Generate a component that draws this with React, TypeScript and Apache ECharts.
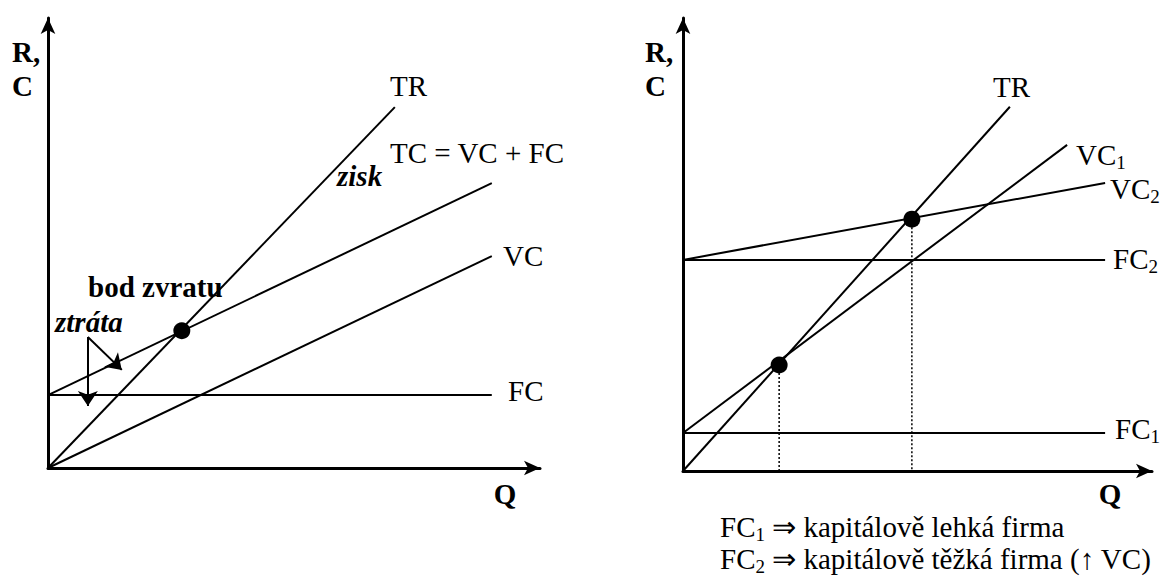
import React, { useEffect, useRef } from "react";
import * as echarts from "echarts";

const FONT = '"Liberation Serif", "Times New Roman", serif';

// Left chart (break-even)
const fcLeft = [[0, 16.2], [90.2, 16.2]];
const tcLeft = [[0, 16.2], [90.2, 63.3]];
const vcLeft = [[0, 0], [90.2, 47.1]];
const trLeft = [[0, 0], [70.5, 80.2]];
const breakEvenLeft = [[27.2, 30.5]];
const lossArrows = [
  [[8.1, 29.1], [8.1, 13.8]],
  [[8.1, 29.1], [15.0, 21.8]],
];

// Right chart (FC1 vs FC2)
const fc1 = [[0, 8.4], [90, 8.4]];
const fc2 = [[0, 46.6], [90, 46.6]];
const trRight = [[0, 0], [69.7, 80.4]];
const vc1 = [[0, 8.4], [81.9, 72]];
const vc2 = [[0, 46.6], [90, 63.6]];
const breakEvenRight = [[20.5, 23.4], [48.8, 55.6]];

const axisLine = {
  show: true,
  onZero: false,
  symbol: ["none", "arrow"],
  symbolSize: [11, 16],
  lineStyle: { color: "#000", width: 3 },
};

const baseAxis = (gridIndex: number) => ({
  type: "value",
  gridIndex,
  min: 0,
  max: 100,
  axisLine,
  axisTick: { show: false },
  axisLabel: { show: false },
  splitLine: { show: false },
});

const seg = (data: number[][], idx: number, dotted = false) => ({
  type: "line",
  xAxisIndex: idx,
  yAxisIndex: idx,
  data,
  showSymbol: false,
  symbol: "none",
  silent: true,
  lineStyle: dotted
    ? { color: "#000", width: 1.5, type: [2, 2] }
    : { color: "#000", width: 2 },
});

const txt = (text: string, x: number, y: number, opts: any = {}) => ({
  type: "text",
  x,
  y,
  silent: true,
  style: {
    text,
    fill: "#000",
    fontFamily: FONT,
    fontSize: opts.size || 29,
    fontWeight: opts.bold ? "bold" : "normal",
    fontStyle: opts.italic ? "italic" : "normal",
    textAlign: opts.align || "left",
    textVerticalAlign: "middle",
    rich: opts.rich,
  },
});

const subRich = {
  m: { fontFamily: FONT, fontSize: 29, lineHeight: 34, fill: "#000" },
  s: { fontFamily: FONT, fontSize: 19, lineHeight: 16, verticalAlign: "bottom", fill: "#000" },
};

export default function App() {
  const ref = useRef<HTMLDivElement>(null);
  useEffect(() => {
    if (!ref.current) return;
    const chart = echarts.init(ref.current, null, { renderer: "svg" });
    const dropLines = breakEvenRight.map((p) => seg([p, [p[0], 0]], 1, true));
    chart.setOption({
      animation: false,
      backgroundColor: "#fff",
      grid: [
        { left: 48, top: 18, width: 492, height: 450, outerBoundsMode: "none" },
        { left: 683, top: 18, width: 469, height: 453, outerBoundsMode: "none" },
      ],
      xAxis: [baseAxis(0), baseAxis(1)],
      yAxis: [baseAxis(0), baseAxis(1)],
      series: [
        seg(fcLeft, 0),
        seg(tcLeft, 0),
        seg(vcLeft, 0),
        seg(trLeft, 0),
        {
          type: "scatter",
          xAxisIndex: 0,
          yAxisIndex: 0,
          data: breakEvenLeft,
          symbolSize: 17,
          itemStyle: { color: "#000", opacity: 1 },
          silent: true,
          z: 5,
        },
        {
          type: "lines",
          coordinateSystem: "cartesian2d",
          xAxisIndex: 0,
          yAxisIndex: 0,
          data: lossArrows.map((c) => ({ coords: c })),
          symbol: ["none", "arrow"],
          symbolSize: [10, 15],
          lineStyle: { color: "#000", width: 2, opacity: 1 },
          silent: true,
        },
        seg(fc1, 1),
        seg(fc2, 1),
        seg(trRight, 1),
        seg(vc1, 1),
        seg(vc2, 1),
        ...dropLines,
        {
          type: "scatter",
          xAxisIndex: 1,
          yAxisIndex: 1,
          data: breakEvenRight,
          symbolSize: 17,
          itemStyle: { color: "#000", opacity: 1 },
          silent: true,
          z: 5,
        },
      ],
      graphic: [
        // left chart texts
        txt("R,", 12, 52, { bold: true }),
        txt("C", 12, 86, { bold: true }),
        txt("TR", 390, 86),
        txt("TC = VC + FC", 390, 153),
        txt("VC", 503, 256),
        txt("FC", 508, 391),
        txt("zisk", 337, 176, { bold: true, italic: true }),
        txt("bod zvratu", 88, 287, { bold: true }),
        txt("ztráta", 55, 322, { bold: true, italic: true }),
        txt("Q", 505, 494, { bold: true, align: "center" }),
        // right chart texts
        txt("R,", 645, 52, { bold: true }),
        txt("C", 645, 86, { bold: true }),
        txt("TR", 993, 87),
        txt("{m|VC}{s|1}", 1076, 155, { rich: subRich }),
        txt("{m|VC}{s|2}", 1110, 189, { rich: subRich }),
        txt("{m|FC}{s|2}", 1113, 259, { rich: subRich }),
        txt("{m|FC}{s|1}", 1115, 429, { rich: subRich }),
        txt("Q", 1110, 494, { bold: true, align: "center" }),
        txt("{m|FC}{s|1}{m| ⇒ kapitálově lehká firma}", 720, 527, { rich: subRich }),
        txt("{m|FC}{s|2}{m| ⇒ kapitálově těžká firma (↑ VC)}", 720, 559, { rich: subRich }),
      ],
    });
    return () => chart.dispose();
  }, []);
  return (
    <div
      ref={ref}
      style={{ position: "fixed", left: 0, top: 0, width: 1168, height: 579, background: "#fff" }}
    />
  );
}
